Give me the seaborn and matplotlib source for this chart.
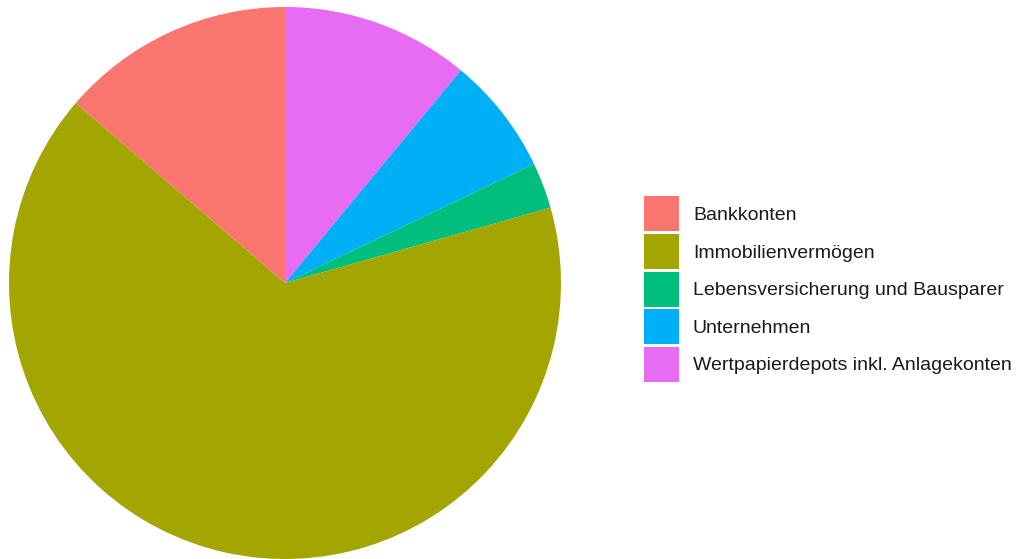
import matplotlib
matplotlib.use("Agg")
import matplotlib.pyplot as plt
from matplotlib.patches import Patch
import seaborn as sns

sns.set_style("white")
plt.rcParams["font.family"] = ["Liberation Sans", "DejaVu Sans"]

# Asset classes and their share of total wealth (%)
categories = ["Bankkonten", "Immobilienvermögen", "Lebensversicherung und Bausparer",
              "Unternehmen", "Wertpapierdepots inkl. Anlagekonten"]
shares = [13.7, 65.7, 2.7, 6.9, 11.0]
palette = ["#F8766D", "#A3A500", "#00BF7D", "#00B0F6", "#E76BF3"]

W, H = 1018, 559
fig = plt.figure(figsize=(W / 100, H / 100), dpi=100)
ax = fig.add_axes([9 / W, 0, 552 / W, 552 / H])

# slices run clockwise from 12 o'clock, last category first
order = list(reversed(range(len(categories))))
ax.pie([shares[i] for i in order], colors=[palette[i] for i in order],
       startangle=90, counterclock=False, radius=1,
       wedgeprops=dict(linewidth=0, antialiased=True))
ax.set_xlim(-1, 1)
ax.set_ylim(-1, 1)
ax.set_aspect("equal")
ax.axis("off")

handles = [Patch(facecolor=c, edgecolor="none") for c in palette]
fs = 14
leg = fig.legend(handles, categories, loc="upper left",
                 bbox_to_anchor=(644 / W, 1 - 196.5 / H), frameon=False,
                 fontsize=fs, handlelength=1.80, handleheight=2.39,
                 labelspacing=0.134, handletextpad=0.72, borderpad=0, borderaxespad=0)
for t in leg.get_texts():
    t.set_color("#1A1A1A")

fig.savefig("out.png", dpi=100)
